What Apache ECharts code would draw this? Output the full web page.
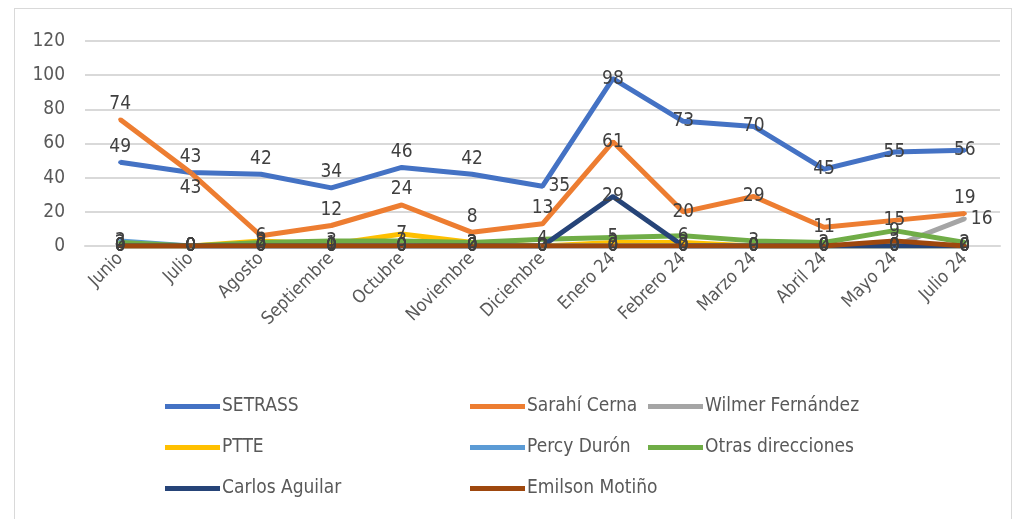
<!DOCTYPE html>
<html>
<head>
<meta charset="utf-8">
<script src="https://cdn.jsdelivr.net/npm/echarts@6/dist/echarts.min.js"></script>
<style>
  html, body { margin: 0; padding: 0; background: #fff; }
  #frame { position: absolute; left: 14px; top: 8px; width: 996px; height: 520px; border: 1px solid #d9d9d9; }
  #chart { position: absolute; left: 0; top: 0; width: 1021px; height: 519px; }
</style>
</head>
<body>
<div id="frame"></div>
<div id="chart"></div>
<script>
// categories (months)
const months = ['Junio', 'Julio', 'Agosto', 'Septiembre', 'Octubre', 'Noviembre', 'Diciembre',
    'Enero 24', 'Febrero 24', 'Marzo 24', 'Abril 24', 'Mayo 24', 'Julio 24']

// series values
const setrass = [49, 43, 42, 34, 46, 42, 35, 98, 73, 70, 45, 55, 56]
const sarahiCerna = [74, 43, 6, 12, 24, 8, 13, 61, 20, 29, 11, 15, 19]
const wilmerFernandez = [0, 0, 0, 0, 0, 0, 0, 0, 0, 0, 0, 0, 16]
const ptte = [0, 0, 3, 1, 7, 2, 0, 2, 2, 0, 0, 0, 0]
const percyDuron = [3, 0, 0, 0, 0, 0, 0, 0, 0, 0, 0, 0, 0]
const otrasDirecciones = [2, 0, 2, 3, 3, 2, 4, 5, 6, 3, 2, 9, 2]
const carlosAguilar = [0, 0, 0, 0, 0, 0, 0, 29, 0, 0, 0, 0, 0]
const emilsonMotino = [0, 0, 0, 0, 0, 0, 0, 0, 0, 0, 0, 3, 0]

// y axis ticks
const yMin = 0
const yMax = 120
const yStep = 20

// where the data labels sit (like the Excel original)
const setrassLabelPos = ['top', 'top', 'top', 'top', 'top', 'top', 'right', 'inside', 'inside', 'inside', 'inside', 'inside', 'inside']
const sarahiLabelPos = ['top', 'bottom', 'inside', 'top', 'top', 'top', 'top', 'inside', 'inside', 'inside', 'inside', 'inside', 'top']
const wilmerLabelPos = ['inside', 'inside', 'inside', 'inside', 'inside', 'inside', 'inside', 'inside', 'inside', 'inside', 'inside', 'inside', 'right']

const font = "'Liberation Sans Narrow', 'DejaVu Sans Condensed', sans-serif"

const makeSeries = (name, values, color, labelPos) => ({
    name: name,
    type: 'line',
    data: values.map((v, i) => ({
        value: v,
        label: { position: labelPos ? labelPos[i] : 'inside' }
    })),
    symbol: 'circle',
    symbolSize: 4,
    showAllSymbol: true,
    lineStyle: { color: color, width: 5 },
    itemStyle: { color: color },
    labelLayout: { hideOverlap: false },
    label: {
        show: true,
        position: 'inside',
        distance: 4,
        color: '#404040',
        fontSize: 19,
        fontFamily: font
    }
})

const legendBase = {
    orient: 'vertical',
    icon: 'rect',
    itemWidth: 55,
    itemHeight: 5,
    itemGap: 22,
    textStyle: { color: '#595959', fontSize: 19, fontFamily: font, padding: [0, 0, 0, -3] }
}

const chart = echarts.init(document.getElementById('chart'))
chart.setOption({
    animation: false,
    grid: { left: 85, right: 21, top: 41, bottom: 273 },
    legend: [
        Object.assign({}, legendBase, { left: 160, top: 392, data: ['SETRASS', 'PTTE', 'Carlos Aguilar'] }),
        Object.assign({}, legendBase, { left: 465, top: 392, data: ['Sarahí Cerna', 'Percy Durón', 'Emilson Motiño'] }),
        Object.assign({}, legendBase, { left: 643, top: 392, data: ['Wilmer Fernández', 'Otras direcciones'] })
    ],
    xAxis: {
        type: 'category',
        data: months,
        boundaryGap: true,
        axisLine: { lineStyle: { color: '#d9d9d9', width: 2 } },
        axisTick: { show: false },
        axisLabel: { rotate: 45, color: '#595959', fontSize: 18, fontFamily: font, margin: 10, interval: 0 }
    },
    yAxis: {
        type: 'value',
        min: yMin,
        max: yMax,
        interval: yStep,
        axisLine: { show: false },
        axisTick: { show: false },
        axisLabel: { color: '#595959', fontSize: 19, fontFamily: font, margin: 20 },
        splitLine: { lineStyle: { color: '#d9d9d9', width: 2 } }
    },
    series: [
        makeSeries('SETRASS', setrass, '#4472C4', setrassLabelPos),
        makeSeries('Sarahí Cerna', sarahiCerna, '#ED7D31', sarahiLabelPos),
        makeSeries('Wilmer Fernández', wilmerFernandez, '#A5A5A5', wilmerLabelPos),
        makeSeries('PTTE', ptte, '#FFC000'),
        makeSeries('Percy Durón', percyDuron, '#5B9BD5'),
        makeSeries('Otras direcciones', otrasDirecciones, '#70AD47'),
        makeSeries('Carlos Aguilar', carlosAguilar, '#264478'),
        makeSeries('Emilson Motiño', emilsonMotino, '#9E480E')
    ]
})
</script>
</body>
</html>
